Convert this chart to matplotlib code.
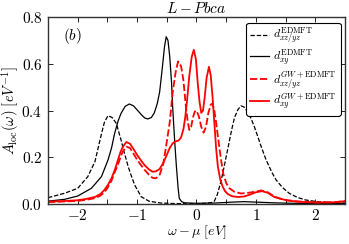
import matplotlib
matplotlib.use("Agg")
import matplotlib.pyplot as plt
from matplotlib.ticker import MultipleLocator, FuncFormatter

plt.rcParams['mathtext.fontset'] = 'cm'
plt.rcParams['font.family'] = 'serif'
plt.rcParams['font.serif'] = ['DejaVu Serif']

# d_xz/yz, EDMFT
x_a = [-2.5, -2.22, -2.0, -1.83, -1.71, -1.60, -1.55, -1.49, -1.42, -1.35, -1.27, -1.21, -1.15,
       -1.09, -1.04, -0.93, -0.8, -0.6, -0.4, -0.2, 0.0, 0.15, 0.25, 0.30, 0.35, 0.41, 0.47,
       0.53, 0.59, 0.64, 0.70, 0.75, 0.80, 0.86, 0.92, 0.975, 1.03, 1.09, 1.17, 1.27, 1.34,
       1.45, 1.56, 1.7, 1.84, 2.03, 2.3, 2.5]
y_a = [0.027, 0.046, 0.067, 0.117, 0.181, 0.30, 0.35, 0.378, 0.37, 0.345, 0.274, 0.215, 0.16,
       0.115, 0.081, 0.031, 0.012, 0.004, 0.002, 0.001, 0.001, 0.003, 0.006, 0.012, 0.04, 0.095,
       0.165, 0.24, 0.315, 0.37, 0.405, 0.42, 0.415, 0.395, 0.365, 0.33, 0.29, 0.245, 0.19,
       0.135, 0.103, 0.07, 0.046, 0.028, 0.017, 0.01, 0.006, 0.004]

# d_xy, EDMFT
x_b = [-2.5, -2.22, -2.0, -1.77, -1.6, -1.49, -1.43, -1.38, -1.32, -1.27, -1.2, -1.13, -1.06,
       -0.99, -0.92, -0.87, -0.82, -0.76, -0.71, -0.66, -0.62, -0.57, -0.54, -0.51, -0.48,
       -0.45, -0.42, -0.40, -0.37, -0.34, -0.31, -0.29, -0.25, -0.2, 0.0, 0.3, 0.6, 0.8, 1.0,
       1.3, 1.6, 2.0, 2.5]
y_b = [0.012, 0.02, 0.034, 0.067, 0.117, 0.188, 0.24, 0.30, 0.355, 0.388, 0.418, 0.428, 0.42,
       0.40, 0.38, 0.368, 0.364, 0.37, 0.39, 0.43, 0.48, 0.595, 0.67, 0.716, 0.70, 0.63, 0.52,
       0.41, 0.28, 0.167, 0.07, 0.024, 0.01, 0.005, 0.003, 0.004, 0.008, 0.01, 0.008, 0.005,
       0.003, 0.002, 0.002]

# d_xz/yz, GW+EDMFT
x_c = [-2.5, -2.2, -2.0, -1.85, -1.71, -1.62, -1.55, -1.49, -1.43, -1.37, -1.32, -1.28, -1.24,
       -1.18, -1.12, -1.06, -1.0, -0.93, -0.87, -0.8, -0.74, -0.68, -0.62, -0.56, -0.51, -0.45,
       -0.40, -0.35, -0.31, -0.26, -0.22, -0.18, -0.146, -0.12, -0.09, -0.06, -0.03, 0.0, 0.04,
       0.08, 0.12, 0.16, 0.2, 0.24, 0.27, 0.30, 0.33, 0.36, 0.41, 0.45, 0.5, 0.55, 0.64, 0.75,
       0.85, 0.975, 1.09, 1.2, 1.31, 1.42, 1.53, 1.7, 2.0, 2.3, 2.5]
y_c = [0.008, 0.011, 0.013, 0.018, 0.025, 0.035, 0.05, 0.072, 0.1, 0.14, 0.17, 0.2, 0.225,
       0.245, 0.24, 0.215, 0.19, 0.165, 0.145, 0.125, 0.112, 0.11, 0.125, 0.17, 0.25, 0.35,
       0.48, 0.566, 0.61, 0.59, 0.53, 0.42, 0.35, 0.317, 0.33, 0.37, 0.395, 0.40, 0.375, 0.33,
       0.305, 0.33, 0.39, 0.425, 0.43, 0.40, 0.35, 0.29, 0.195, 0.13, 0.09, 0.068, 0.052, 0.045,
       0.047, 0.052, 0.058, 0.05, 0.032, 0.022, 0.016, 0.011, 0.007, 0.007, 0.012]

# d_xy, GW+EDMFT
x_d = [-2.5, -2.2, -2.0, -1.85, -1.71, -1.62, -1.55, -1.49, -1.43, -1.37, -1.32, -1.28, -1.24,
       -1.18, -1.12, -1.06, -1.0, -0.93, -0.87, -0.8, -0.74, -0.68, -0.62, -0.56, -0.5, -0.45,
       -0.4, -0.35, -0.3, -0.26, -0.22, -0.19, -0.16, -0.12, -0.08, -0.045, -0.01, 0.02, 0.05,
       0.08, 0.11, 0.14, 0.17, 0.21, 0.24, 0.27, 0.30, 0.33, 0.36, 0.40, 0.44, 0.48, 0.53, 0.6,
       0.7, 0.8, 0.9, 1.0, 1.1, 1.2, 1.31, 1.42, 1.53, 1.7, 2.0, 2.3, 2.5]
y_d = [0.01, 0.013, 0.016, 0.022, 0.03, 0.042, 0.06, 0.082, 0.11, 0.15, 0.19, 0.222, 0.245,
       0.265, 0.258, 0.235, 0.21, 0.185, 0.165, 0.148, 0.138, 0.14, 0.15, 0.175, 0.21, 0.24,
       0.26, 0.268, 0.272, 0.285, 0.32, 0.37, 0.44, 0.55, 0.63, 0.66, 0.62, 0.52, 0.44, 0.39,
       0.40, 0.46, 0.54, 0.587, 0.55, 0.46, 0.35, 0.24, 0.16, 0.105, 0.075, 0.055, 0.042, 0.033,
       0.03, 0.032, 0.04, 0.05, 0.055, 0.048, 0.03, 0.022, 0.015, 0.01, 0.006, 0.007, 0.012]

labels = [r'$d_{xz/yz}^{\rm EDMFT}$', r'$d_{xy}^{\rm EDMFT}$',
          r'$d_{xz/yz}^{GW+{\rm EDMFT}}$', r'$d_{xy}^{GW+{\rm EDMFT}}$']

fig = plt.figure(figsize=(3.49, 2.44), dpi=100)
ax = fig.add_axes([0.1375, 0.164, 0.851, 0.766])

ax.plot(x_a, y_a, color='k', ls=(0, (3.5, 1.5)), lw=0.9, label=labels[0])
ax.plot(x_b, y_b, color='k', ls='-', lw=0.9, label=labels[1])
ax.plot(x_c, y_c, color='red', ls=(0, (4, 1.5)), lw=1.3, label=labels[2])
ax.plot(x_d, y_d, color='red', ls='-', lw=1.3, label=labels[3])

ax.set_xlim(-2.5, 2.5)
ax.set_ylim(0, 0.8)
ax.xaxis.set_major_locator(MultipleLocator(1))
ax.xaxis.set_minor_locator(MultipleLocator(0.5))
ax.yaxis.set_major_locator(MultipleLocator(0.2))
ax.xaxis.set_major_formatter(FuncFormatter(lambda v, p: r'$%d$' % round(v)))
ax.yaxis.set_major_formatter(FuncFormatter(lambda v, p: r'$%.1f$' % v))
ax.tick_params(which='both', direction='in', top=True, right=True, labelsize=11, pad=4)
ax.tick_params(axis='x', pad=3)
ax.tick_params(which='major', length=3.5, width=0.6)
ax.tick_params(which='minor', length=3.5, width=0.6)
for s in ax.spines.values():
    s.set_linewidth(1.0)
    s.set_color('#333333')

ax.set_xlabel(r'$\omega-\mu\ [eV]$', fontsize=10, labelpad=0)
ax.set_ylabel(r'$A_{\rm loc}(\omega)\ [eV^{-1}]$', fontsize=10.5, labelpad=0)
ax.set_title(r'$L-Pbca$', fontsize=11, pad=3)
ax.text(0.05, 0.9, r'$(b)$', transform=ax.transAxes, fontsize=11, ha='left', va='center')

leg = ax.legend(loc='upper right', bbox_to_anchor=(0.985, 0.97), fontsize=8.5,
                frameon=True, fancybox=True, edgecolor='k', framealpha=1,
                labelspacing=0.1, handlelength=1.6, handletextpad=0.4,
                borderpad=0.3, borderaxespad=0)
leg.get_frame().set_linewidth(0.8)

fig.savefig('out.png', dpi=100)
